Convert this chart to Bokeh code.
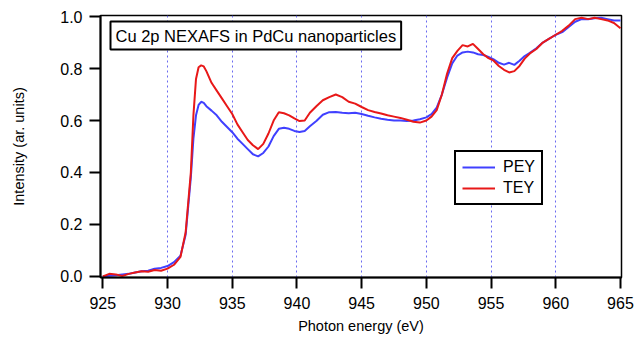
from bokeh.plotting import figure
from bokeh.models import (Range1d, FixedTicker, Legend, LegendItem, Label,
                          ColumnDataSource, NumeralTickFormatter)
from bokeh.embed import file_html
from bokeh.resources import INLINE

# Photon energy grid (eV)
energy = [925.0, 925.5, 926.0, 926.5, 927.0, 927.5, 928.0, 928.5, 929.0, 929.5,
          930.0, 930.5, 931.0, 931.4, 931.8, 932.0, 932.2, 932.4, 932.6, 932.8,
          933.0, 933.4, 933.8, 934.2, 934.6, 935.0, 935.4, 935.8, 936.2, 936.6,
          937.0, 937.4, 937.8, 938.2, 938.6, 939.0, 939.4, 939.8, 940.2, 940.6,
          941.0, 941.5, 942.0, 942.5, 943.0, 943.5, 944.0, 944.5, 945.0, 945.5,
          946.0, 946.5, 947.0, 947.5, 948.0, 948.5, 949.0, 949.5, 950.0, 950.4,
          950.8, 951.2, 951.6, 952.0, 952.4, 952.8, 953.2, 953.6, 954.0, 954.4,
          954.8, 955.2, 955.6, 956.0, 956.4, 956.8, 957.2, 957.6, 958.0, 958.5,
          959.0, 959.5, 960.0, 960.5, 961.0, 961.5, 962.0, 962.5, 963.0, 963.5,
          964.0, 964.5, 965.0]

# Partial electron yield
pey = [0.000, 0.003, 0.005, 0.008, 0.010, 0.015, 0.020, 0.022, 0.030, 0.033,
       0.040, 0.055, 0.080, 0.160, 0.380, 0.530, 0.620, 0.660, 0.672, 0.668,
       0.655, 0.638, 0.620, 0.595, 0.575, 0.555, 0.530, 0.510, 0.490, 0.470,
       0.462, 0.475, 0.500, 0.540, 0.568, 0.572, 0.568, 0.560, 0.556, 0.560,
       0.578, 0.598, 0.622, 0.632, 0.633, 0.630, 0.628, 0.630, 0.625, 0.618,
       0.612, 0.607, 0.603, 0.600, 0.600, 0.598, 0.600, 0.605, 0.612, 0.625,
       0.650, 0.700, 0.765, 0.820, 0.850, 0.862, 0.865, 0.862, 0.855, 0.852,
       0.845, 0.835, 0.822, 0.815, 0.822, 0.814, 0.830, 0.848, 0.860, 0.878,
       0.900, 0.915, 0.930, 0.940, 0.960, 0.980, 0.990, 0.990, 0.993, 0.995,
       0.990, 0.985, 0.985]

# Total electron yield
tey = [0.000, 0.010, 0.008, 0.002, 0.010, 0.015, 0.020, 0.018, 0.025, 0.022,
       0.030, 0.045, 0.075, 0.170, 0.400, 0.620, 0.760, 0.805, 0.812, 0.808,
       0.790, 0.745, 0.715, 0.685, 0.655, 0.625, 0.585, 0.555, 0.525, 0.505,
       0.490, 0.510, 0.550, 0.600, 0.632, 0.628, 0.620, 0.608, 0.598, 0.600,
       0.630, 0.655, 0.678, 0.690, 0.700, 0.690, 0.672, 0.665, 0.652, 0.640,
       0.633, 0.627, 0.620, 0.615, 0.610, 0.603, 0.595, 0.592, 0.600, 0.615,
       0.640, 0.700, 0.780, 0.840, 0.868, 0.890, 0.885, 0.895, 0.875, 0.855,
       0.840, 0.830, 0.810, 0.795, 0.785, 0.790, 0.810, 0.838, 0.858, 0.875,
       0.900, 0.915, 0.930, 0.945, 0.965, 0.990, 0.995, 0.990, 0.995, 0.990,
       0.985, 0.975, 0.955]

x_ticks = [925, 930, 935, 940, 945, 950, 955, 960, 965]
y_ticks = [0.0, 0.2, 0.4, 0.6, 0.8, 1.0]
grid_positions = [930, 935, 940, 945, 950, 955, 960]
series_names = ["PEY", "TEY"]
title_text = "Cu 2p NEXAFS in PdCu nanoparticles"
x_label = "Photon energy (eV)"
y_label = "Intensity (ar. units)"

FONT = "Liberation Sans"

p = figure(width=635, height=337, output_backend="svg", toolbar_location=None,
           x_range=Range1d(924.82, 965.08), y_range=Range1d(-0.004, 1.004),
           min_border_left=100, min_border_right=14, min_border_top=15,
           min_border_bottom=60)
p.background_fill_color = "white"
p.border_fill_color = "white"
p.outline_line_color = "black"
p.outline_line_width = 1.5
p.outline_line_alpha = 1

# grids
p.ygrid.visible = False
p.xgrid.ticker = FixedTicker(ticks=grid_positions)
p.xgrid.grid_line_color = "#6a6af0"
p.xgrid.grid_line_width = 1
p.xgrid.grid_line_dash = "2 3"

for ax in (p.xaxis[0], p.yaxis[0]):
    ax.axis_line_color = "black"
    ax.axis_line_width = 2
    ax.major_tick_line_color = "black"
    ax.major_tick_line_width = 2
    ax.major_tick_in = 0
    ax.major_tick_out = 11
    ax.minor_tick_line_color = None
    ax.major_label_text_font = FONT
    ax.major_label_text_font_size = "16px"
    ax.major_label_text_color = "black"
    ax.axis_label_text_font = FONT
    ax.axis_label_text_font_size = "14.5px"
    ax.axis_label_text_font_style = "normal"
    ax.axis_label_text_color = "black"

p.xaxis.ticker = FixedTicker(ticks=x_ticks)
p.yaxis.ticker = FixedTicker(ticks=y_ticks)
p.yaxis.formatter = NumeralTickFormatter(format="0.0")
p.xaxis.major_label_standoff = 8
p.yaxis.major_label_standoff = 7
p.xaxis.axis_label = x_label
p.yaxis.axis_label = y_label
p.xaxis.axis_label_standoff = 6
p.yaxis.axis_label_standoff = 30

src = ColumnDataSource(dict(energy=energy, pey=pey, tey=tey))
r_pey = p.line("energy", "pey", source=src, line_color="#4040ff", line_width=2)
r_tey = p.line("energy", "tey", source=src, line_color="#e81818", line_width=2)

legend = Legend(items=[LegendItem(label=series_names[0], renderers=[r_pey]),
                       LegendItem(label=series_names[1], renderers=[r_tey])],
                location=(354, 72))
legend.border_line_color = "black"
legend.border_line_alpha = 1
legend.border_line_width = 2
legend.background_fill_color = "white"
legend.background_fill_alpha = 1
legend.padding = 6
legend.spacing = 3
legend.margin = 0
legend.glyph_width = 33
legend.glyph_height = 18
legend.label_height = 18
legend.label_standoff = 8
legend.label_text_font = FONT
legend.label_text_font_size = "16px"
legend.label_text_color = "black"
p.add_layout(legend, "center")

title_box = Label(x=10, y=256, x_units="screen", y_units="screen", text=title_text,
                  text_font=FONT, text_font_size="16.5px", text_color="black",
                  text_align="left", text_baseline="top",
                  border_line_color="black", border_line_width=2,
                  border_line_alpha=1,
                  background_fill_color="white", background_fill_alpha=1,
                  padding=5)
p.add_layout(title_box)

open("out.html", "w").write(file_html(p, INLINE))
